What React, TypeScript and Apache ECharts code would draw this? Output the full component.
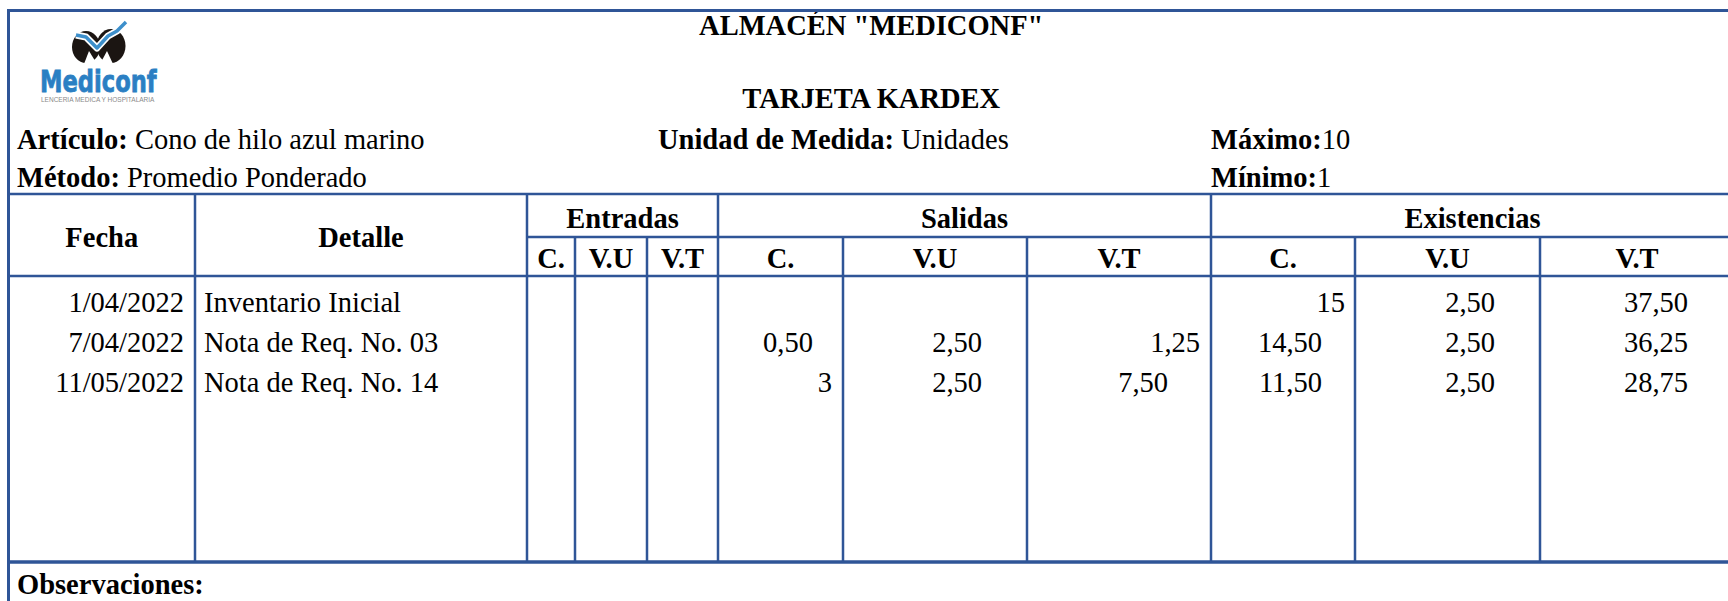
import React, { useEffect, useRef } from "react";
import * as echarts from "echarts";

// ---- data ----
const titulo = 'ALMACÉN "MEDICONF"';
const subtitulo = "TARJETA KARDEX";
const articulo = "Cono de hilo azul marino";
const metodo = "Promedio Ponderado";
const unidad = "Unidades";
const maximo = "10";
const minimo = "1";
const grupos = ["Entradas", "Salidas", "Existencias"];
const subCols = ["C.", "V.U", "V.T"];
const fechas = ["1/04/2022", "7/04/2022", "11/05/2022"];
const detalles = ["Inventario Inicial", "Nota de Req. No. 03", "Nota de Req. No. 14"];
const entradasC = ["", "", ""];
const entradasVU = ["", "", ""];
const entradasVT = ["", "", ""];
const salidasC = ["", "0,50", "3"];
const salidasVU = ["", "2,50", "2,50"];
const salidasVT = ["", "1,25", "7,50"];
const existC = ["15", "14,50", "11,50"];
const existVU = ["2,50", "2,50", "2,50"];
const existVT = ["37,50", "36,25", "28,75"];

// ---- layout ----
const FONT = "'Liberation Serif', 'Times New Roman', serif";
const FS = 28.5;
const LINE = "#2F5597";
const L = 8.5;
const R = 1734;
const TOP = 10.5;
const Y_HEAD = 194;
const Y_SUB = 237;
const Y_BODY = 276;
const Y_END = 562;
const X_COLS = [L, 195, 527, 575, 647, 718, 843, 1027, 1211, 1355, 1540, R];
const ROW_Y = [302, 342, 382];
// anchor per data cell: [x, align]
const ANCH: Record<string, [number, string][]> = {
  salC: [[832, "right"], [788, "center"], [832, "right"]],
  salVU: [[982, "right"], [982, "right"], [982, "right"]],
  salVT: [[1200, "right"], [1200, "right"], [1168, "right"]],
  exC: [[1345, "right"], [1322, "right"], [1322, "right"]],
  exVU: [[1495, "right"], [1495, "right"], [1495, "right"]],
  exVT: [[1688, "right"], [1688, "right"], [1688, "right"]],
};

function txt(text: string, x: number, y: number, opts: any = {}) {
  return {
    type: "text",
    x,
    y,
    silent: true,
    style: {
      text,
      fill: "#000",
      fontFamily: FONT,
      fontSize: FS,
      fontWeight: opts.bold ? "bold" : "normal",
      align: opts.align || "left",
      verticalAlign: "middle",
    },
  };
}

function richTxt(label: string, value: string, x: number, y: number, gap = " ") {
  return {
    type: "text",
    x,
    y,
    silent: true,
    style: {
      text: `{b|${label}}{n|${gap}${value}}`,
      fill: "#000",
      fontFamily: FONT,
      fontSize: FS,
      align: "left",
      verticalAlign: "middle",
      rich: {
        b: { fontFamily: FONT, fontSize: FS, fontWeight: "bold", fill: "#000" },
        n: { fontFamily: FONT, fontSize: FS, fontWeight: "normal", fill: "#000" },
      },
    },
  };
}

function ln(x1: number, y1: number, x2: number, y2: number, w = 2.5) {
  return {
    type: "line",
    silent: true,
    shape: { x1, y1, x2, y2 },
    style: { stroke: LINE, lineWidth: w },
  };
}

function buildGraphics() {
  const g: any[] = [];

  // ---- logo ----
  g.push({ type: "ellipse", shape: { cx: 86, cy: 47, rx: 14, ry: 16 }, style: { fill: "#1b1512" } });
  g.push({ type: "ellipse", shape: { cx: 111, cy: 46, rx: 14.5, ry: 17 }, style: { fill: "#1b1512" } });
  g.push({ type: "polygon", shape: { points: [[84, 64], [89, 51], [97, 64]] }, style: { fill: "#fff" } });
  g.push({ type: "polygon", shape: { points: [[100, 64], [107, 51], [113, 64]] }, style: { fill: "#fff" } });
  const swoosh = [[76, 35], [86, 37], [97, 48], [108, 36], [117, 31], [126, 22]];
  g.push({
    type: "polyline",
    shape: { points: swoosh },
    style: { stroke: "#fff", lineWidth: 7, fill: "none", lineJoin: "round" },
  });
  g.push({
    type: "polyline",
    shape: { points: swoosh },
    style: { stroke: "#3D8FCB", lineWidth: 3.5, fill: "none", lineJoin: "round" },
  });
  g.push({
    type: "text",
    x: 40,
    y: 81,
    scaleX: 0.73,
    silent: true,
    style: {
      text: "Mediconf",
      fill: "#2B7FC3",
      stroke: "#2B7FC3",
      lineWidth: 0.8,
      fontFamily: "'DejaVu Sans', 'Liberation Sans', sans-serif",
      fontWeight: "bold",
      fontSize: 31,
      align: "left",
      verticalAlign: "middle",
    },
  });
  g.push({
    type: "text",
    x: 41,
    y: 99,
    scaleX: 1,
    silent: true,
    style: {
      text: "LENCERIA MEDICA Y HOSPITALARIA",
      fill: "#8a8a8a",
      fontFamily: "'Liberation Sans', Arial, sans-serif",
      fontSize: 6.5,
      align: "left",
      verticalAlign: "middle",
    },
  });

  // ---- header texts ----
  const cx = (L + R) / 2;
  g.push(txt(titulo, cx, 25, { bold: true, align: "center" }));
  g.push(txt(subtitulo, cx, 98, { bold: true, align: "center" }));
  g.push(richTxt("Artículo:", articulo, 17, 139));
  g.push(richTxt("Método:", metodo, 17, 177));
  g.push(richTxt("Unidad de Medida:", unidad, 658, 139));
  g.push(richTxt("Máximo:", maximo, 1211, 139, ""));
  g.push(richTxt("Mínimo:", minimo, 1211, 177, ""));

  // ---- table header ----
  g.push(txt("Fecha", (X_COLS[0] + X_COLS[1]) / 2, 237, { bold: true, align: "center" }));
  g.push(txt("Detalle", (X_COLS[1] + X_COLS[2]) / 2, 237, { bold: true, align: "center" }));
  const groupStarts = [2, 5, 8];
  grupos.forEach((name, i) => {
    const s = groupStarts[i];
    g.push(txt(name, (X_COLS[s] + X_COLS[s + 3]) / 2, 218, { bold: true, align: "center" }));
    subCols.forEach((sc, j) => {
      g.push(txt(sc, (X_COLS[s + j] + X_COLS[s + j + 1]) / 2, 258, { bold: true, align: "center" }));
    });
  });

  // ---- body ----
  ROW_Y.forEach((y, r) => {
    g.push(txt(fechas[r], 184, y, { align: "right" }));
    g.push(txt(detalles[r], 204, y));
    [entradasC, entradasVU, entradasVT].forEach((arr, j) => {
      if (arr[r]) g.push(txt(arr[r], X_COLS[3 + j] - 10, y, { align: "right" }));
    });
    const cols: [string[], string][] = [
      [salidasC, "salC"],
      [salidasVU, "salVU"],
      [salidasVT, "salVT"],
      [existC, "exC"],
      [existVU, "exVU"],
      [existVT, "exVT"],
    ];
    cols.forEach(([arr, key]) => {
      if (!arr[r]) return;
      const [ax, al] = ANCH[key][r];
      g.push(txt(arr[r], ax, y, { align: al }));
    });
  });
  g.push(txt("Observaciones:", 17, 584, { bold: true }));

  // ---- grid lines ----
  g.push(ln(L, TOP, R, TOP, 3));
  g.push(ln(L, TOP - 1.5, L, 601, 3));
  g.push(ln(L, Y_HEAD, R, Y_HEAD));
  g.push(ln(X_COLS[2], Y_SUB, R, Y_SUB));
  g.push(ln(L, Y_BODY, R, Y_BODY));
  g.push(ln(L, Y_END, R, Y_END, 3.5));
  [1, 2, 5, 8].forEach((i) => g.push(ln(X_COLS[i], Y_HEAD, X_COLS[i], Y_END)));
  [3, 4, 6, 7, 9, 10].forEach((i) => g.push(ln(X_COLS[i], Y_SUB, X_COLS[i], Y_END)));

  return g;
}

export default function App() {
  const ref = useRef<HTMLDivElement>(null);
  useEffect(() => {
    document.body.style.margin = "0";
    if (!ref.current) return;
    const chart = echarts.init(ref.current, null, { renderer: "svg" });
    chart.setOption({
      animation: false,
      backgroundColor: "#fff",
      graphic: { elements: buildGraphics() },
    });
    return () => chart.dispose();
  }, []);
  return <div ref={ref} style={{ width: 1728, height: 601 }} />;
}
